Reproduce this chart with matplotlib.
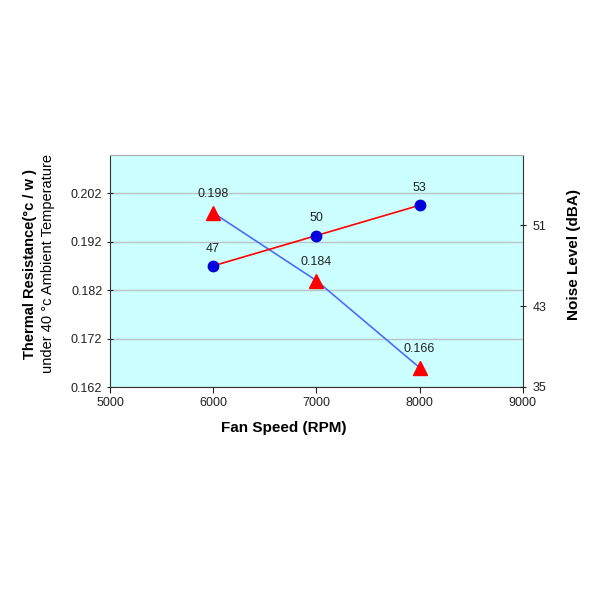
import matplotlib.pyplot as plt

plt.rcParams['font.family'] = ['Liberation Sans', 'DejaVu Sans']

# data
fan_speed = [6000, 7000, 8000]
thermal_res = [0.198, 0.184, 0.166]
noise = [47, 50, 53]

x_ticks = [5000, 6000, 7000, 8000, 9000]
left_ticks = [0.162, 0.172, 0.182, 0.192, 0.202]
right_ticks = [35, 43, 51]

fig = plt.figure(figsize=(6, 6), dpi=100)
ax = fig.add_axes([0.1833, 0.355, 0.688, 0.387])
ax.set_facecolor('#ccffff')

ax.set_xlim(5000, 9000)
ax.set_ylim(0.162, 0.210)
ax.set_xticks(x_ticks)
ax.set_yticks(left_ticks)
ax.set_yticklabels([f'{v:.3f}' for v in left_ticks])
ax.yaxis.grid(True, color='#b8c4c4', linewidth=1)
ax.set_axisbelow(True)

ax.tick_params(axis='both', labelsize=9, colors='#222222', length=4, direction='inout')
ax.tick_params(axis='x', direction='out')
for s in ['left', 'bottom']:
    ax.spines[s].set_color('#333333')
ax.spines['top'].set_color('#aaaaaa')
ax.spines['right'].set_color('#333333')

# thermal resistance: red triangles joined by a blue line
ax.plot(fan_speed, thermal_res, color='#4a6cff', linewidth=1.2, zorder=3)
ax.plot(fan_speed, thermal_res, linestyle='', marker='^', color='red',
        markersize=10, zorder=4)
for xv, yv in zip(fan_speed, thermal_res):
    ax.annotate(f'{yv:.3f}', (xv, yv), xytext=(0, 9), textcoords='offset points',
                ha='center', va='bottom', fontsize=9, color='#222222')

# noise: blue dots joined by a red line
ax2 = ax.twinx()
ax2.set_ylim(35, 58)
ax2.set_yticks(right_ticks)
ax2.tick_params(axis='y', labelsize=9, colors='#222222', length=4,
                direction='inout', pad=5)
for s in ax2.spines.values():
    s.set_visible(False)

ax2.plot(fan_speed, noise, color='red', linewidth=1.2, zorder=3)
ax2.plot(fan_speed, noise, linestyle='', marker='o', color='#0000dd',
         markersize=7.5, zorder=4)
for xv, yv in zip(fan_speed, noise):
    ax2.annotate(f'{yv}', (xv, yv), xytext=(0, 8), textcoords='offset points',
                 ha='center', va='bottom', fontsize=9, color='#222222')

fig.text(284 / 600, 1 - 428 / 600, 'Fan Speed (RPM)', ha='center', va='center',
         fontsize=11, fontweight='bold')
fig.text(574 / 600, 1 - 255 / 600, 'Noise Level (dBA)', rotation=90,
         ha='center', va='center', fontsize=11, fontweight='bold')
fig.text(30 / 600, 1 - 264 / 600, 'Thermal Resistance(°c / w )', rotation=90,
         ha='center', va='center', fontsize=10.5, fontweight='bold')
fig.text(48 / 600, 1 - 264 / 600, 'under 40 °c Ambient Temperature', rotation=90,
         ha='center', va='center', fontsize=10.5)

fig.savefig('out.png', dpi=100)
